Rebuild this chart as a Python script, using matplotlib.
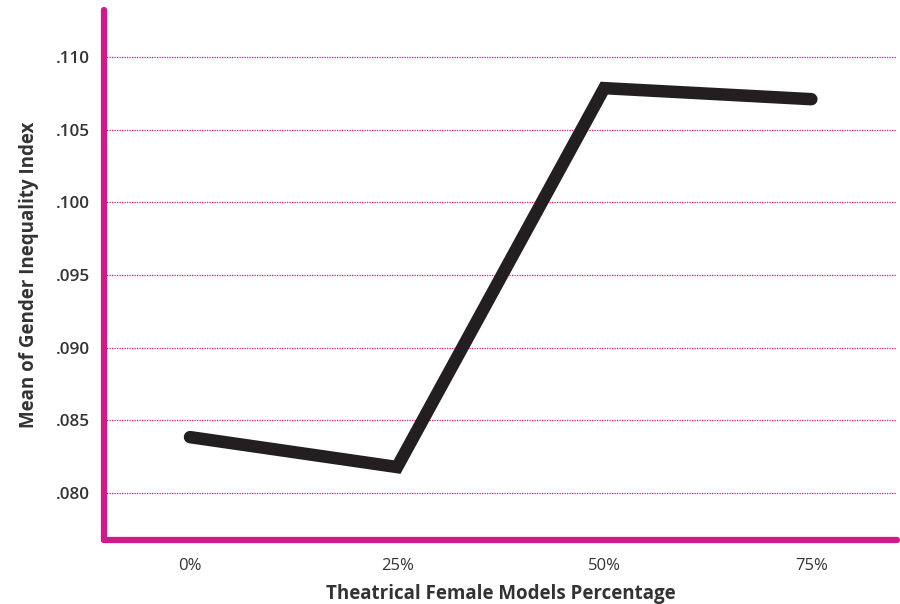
import matplotlib.pyplot as plt

# Chart data
categories = ['0%', '25%', '50%', '75%']
mean_gii = [0.08385, 0.08179, 0.10787, 0.10711]
ytick_vals = [0.080, 0.085, 0.090, 0.095, 0.100, 0.105, 0.110]
ytick_labels = ['.080', '.085', '.090', '.095', '.100', '.105', '.110']

pink = '#D0198A'
plt.rcParams['font.family'] = ['Open Sans', 'DejaVu Sans']

fig = plt.figure(figsize=(9, 6.04), dpi=100)
ax = fig.add_axes([0.1156, 0.106, 0.8814, 0.877])

x = list(range(len(categories)))
ax.plot(x, mean_gii, color='#231F20', linewidth=9, solid_capstyle='round',
        solid_joinstyle='miter', zorder=3)

ax.set_xlim(-0.415, 3.415)
ax.set_ylim(0.07677, 0.11323)
ax.set_xticks(x)
ax.set_xticklabels(categories, fontsize=12, color='#333333')
ax.set_yticks(ytick_vals)
ax.set_yticklabels(ytick_labels, fontsize=12.3, fontweight='semibold', color='#333333')
ax.tick_params(axis='x', length=0, pad=13)
ax.tick_params(axis='y', length=0, pad=10)

ax.grid(axis='y', color=pink, linestyle=(0, (1, 1)), linewidth=0.9)
ax.grid(axis='x', visible=False)

for side in ['top', 'right']:
    ax.spines[side].set_visible(False)
for side in ['left', 'bottom']:
    ax.spines[side].set_color(pink)
    ax.spines[side].set_linewidth(4.5)
    ax.spines[side].set_capstyle('round')

ax.set_xlabel('Theatrical Female Models Percentage', fontsize=13.5,
              fontweight='bold', color='#333333', labelpad=7)
ax.set_ylabel('Mean of Gender Inequality Index', fontsize=13.5,
              fontweight='bold', color='#333333', labelpad=12)

plt.savefig('out.png', dpi=100)
